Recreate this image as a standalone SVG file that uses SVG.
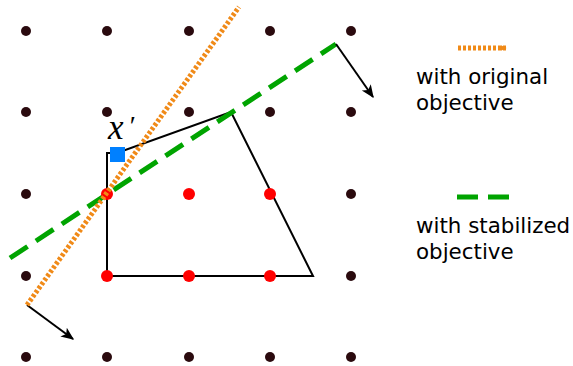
<svg xmlns="http://www.w3.org/2000/svg" width="573" height="366" viewBox="0 0 573 366">
<defs>
<style>
.dot{fill:#2a0a0e}
.red{fill:#ff0000}
.poly{fill:none;stroke:#000;stroke-width:2}
.orange{fill:none;stroke:#f08a18;stroke-width:5;stroke-dasharray:3 2}
.green{fill:none;stroke:#00a400;stroke-width:5;stroke-dasharray:21 10}
.arrow{fill:none;stroke:#000;stroke-width:2;marker-end:url(#ah)}
.lbl{font-family:"DejaVu Sans",sans-serif;font-size:21.4px;fill:#000}
</style>
<marker id="ah" viewBox="0 0 10 10" refX="9" refY="5" markerWidth="13" markerHeight="13" markerUnits="userSpaceOnUse" orient="auto">
<path d="M0,0.8 L10,5 L0,9.2 L2.5,5 Z" fill="#000"/>
</marker>
<marker id="ah2" viewBox="0 0 10 10" refX="9" refY="5" markerWidth="6" markerHeight="6" markerUnits="userSpaceOnUse" orient="auto">
<path d="M0,0 L10,5 L0,10 Z" fill="#f08a18"/>
</marker>
</defs>
<g id="grid">
<circle class="dot" cx="26" cy="31" r="5"/><circle class="dot" cx="107" cy="31" r="5"/><circle class="dot" cx="189" cy="31" r="5"/><circle class="dot" cx="270" cy="31" r="5"/><circle class="dot" cx="351" cy="31" r="5"/>
<circle class="dot" cx="26" cy="112" r="5"/><circle class="dot" cx="107" cy="112" r="5"/><circle class="dot" cx="189" cy="112" r="5"/><circle class="dot" cx="270" cy="112" r="5"/><circle class="dot" cx="351" cy="112" r="5"/>
<circle class="dot" cx="26" cy="194" r="5"/><circle class="dot" cx="351" cy="194" r="5"/>
<circle class="dot" cx="26" cy="276" r="5"/><circle class="dot" cx="351" cy="276" r="5"/>
<circle class="dot" cx="26" cy="357" r="5"/><circle class="dot" cx="107" cy="357" r="5"/><circle class="dot" cx="189" cy="357" r="5"/><circle class="dot" cx="270" cy="357" r="5"/><circle class="dot" cx="351" cy="357" r="5"/>
</g>
<g id="polygon">
<path class="poly" d="M107,276 L313,276 L231,112 L117,153 L107,153 Z"/>
</g>
<g id="connectors">
<path class="green" d="M10,258 L336,44"/>
<path class="arrow" d="M336,44 L373,97"/>
<path class="arrow" d="M27,305 L73,339"/>
</g>
<g id="feasible">
<circle class="red" cx="107" cy="194" r="6"/><circle class="red" cx="189" cy="194" r="6"/><circle class="red" cx="270" cy="194" r="6"/>
<circle class="red" cx="107" cy="276" r="6"/><circle class="red" cx="189" cy="276" r="6"/><circle class="red" cx="270" cy="276" r="6"/>
</g>
<g id="orange-line">
<path class="orange" d="M27,305 L239,7"/>
</g>
<g id="xprime">
<rect x="110" y="147" width="15" height="15" fill="#0080ff"/>
<text x="108" y="139" font-family="'Liberation Serif',serif" font-style="italic" font-size="35">x</text>
<text x="128" y="135" font-family="'Liberation Serif',serif" font-style="italic" font-size="28">′</text>
</g>
<g id="legend">
<path class="orange" d="M458,48 L506,48" marker-end="url(#ah2)"/>
<text class="lbl" x="416" y="84">with original</text>
<text class="lbl" x="416" y="110">objective</text>
<path class="green" d="M457,197 L509,197"/>
<text class="lbl" x="416" y="233">with stabilized</text>
<text class="lbl" x="416" y="259">objective</text>
</g>
</svg>
